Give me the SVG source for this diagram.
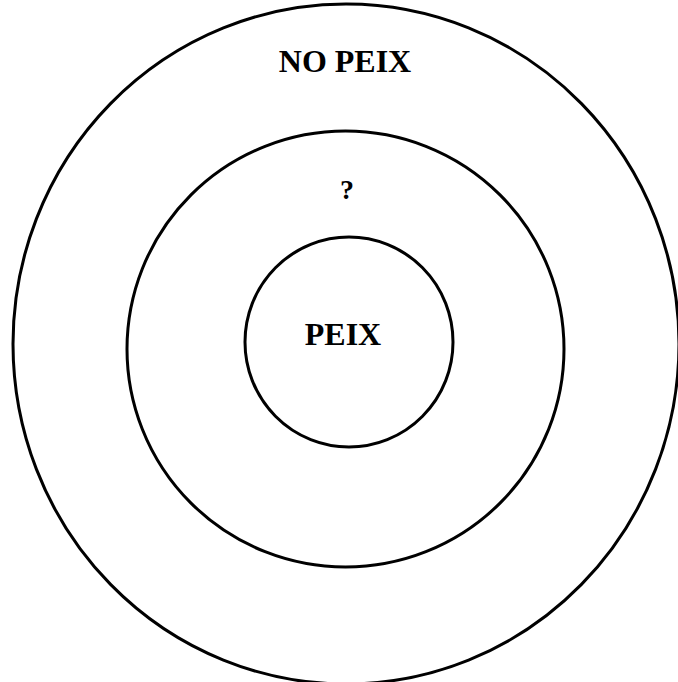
<svg xmlns="http://www.w3.org/2000/svg" width="678" height="682" viewBox="0 0 678 682">
<style>
.ring{fill:none;stroke:#000;stroke-width:3}
.lbl{font-family:"Liberation Serif","Times New Roman",serif;font-weight:bold;font-size:32px;fill:#000;text-anchor:middle}
</style>
<rect width="678" height="682" fill="#fff"/>
<g id="outer"><ellipse class="ring" cx="346" cy="344" rx="333" ry="340"/><text class="lbl" x="345" y="72">NO PEIX</text></g>
<g id="middle"><ellipse class="ring" cx="345.5" cy="349" rx="218.5" ry="218"/><text class="lbl" x="347" y="199" style="font-size:28px">?</text></g>
<g id="inner"><ellipse class="ring" cx="349" cy="342" rx="104" ry="105"/><text class="lbl" x="343" y="345">PEIX</text></g>
<g id="connectors"></g>
</svg>
